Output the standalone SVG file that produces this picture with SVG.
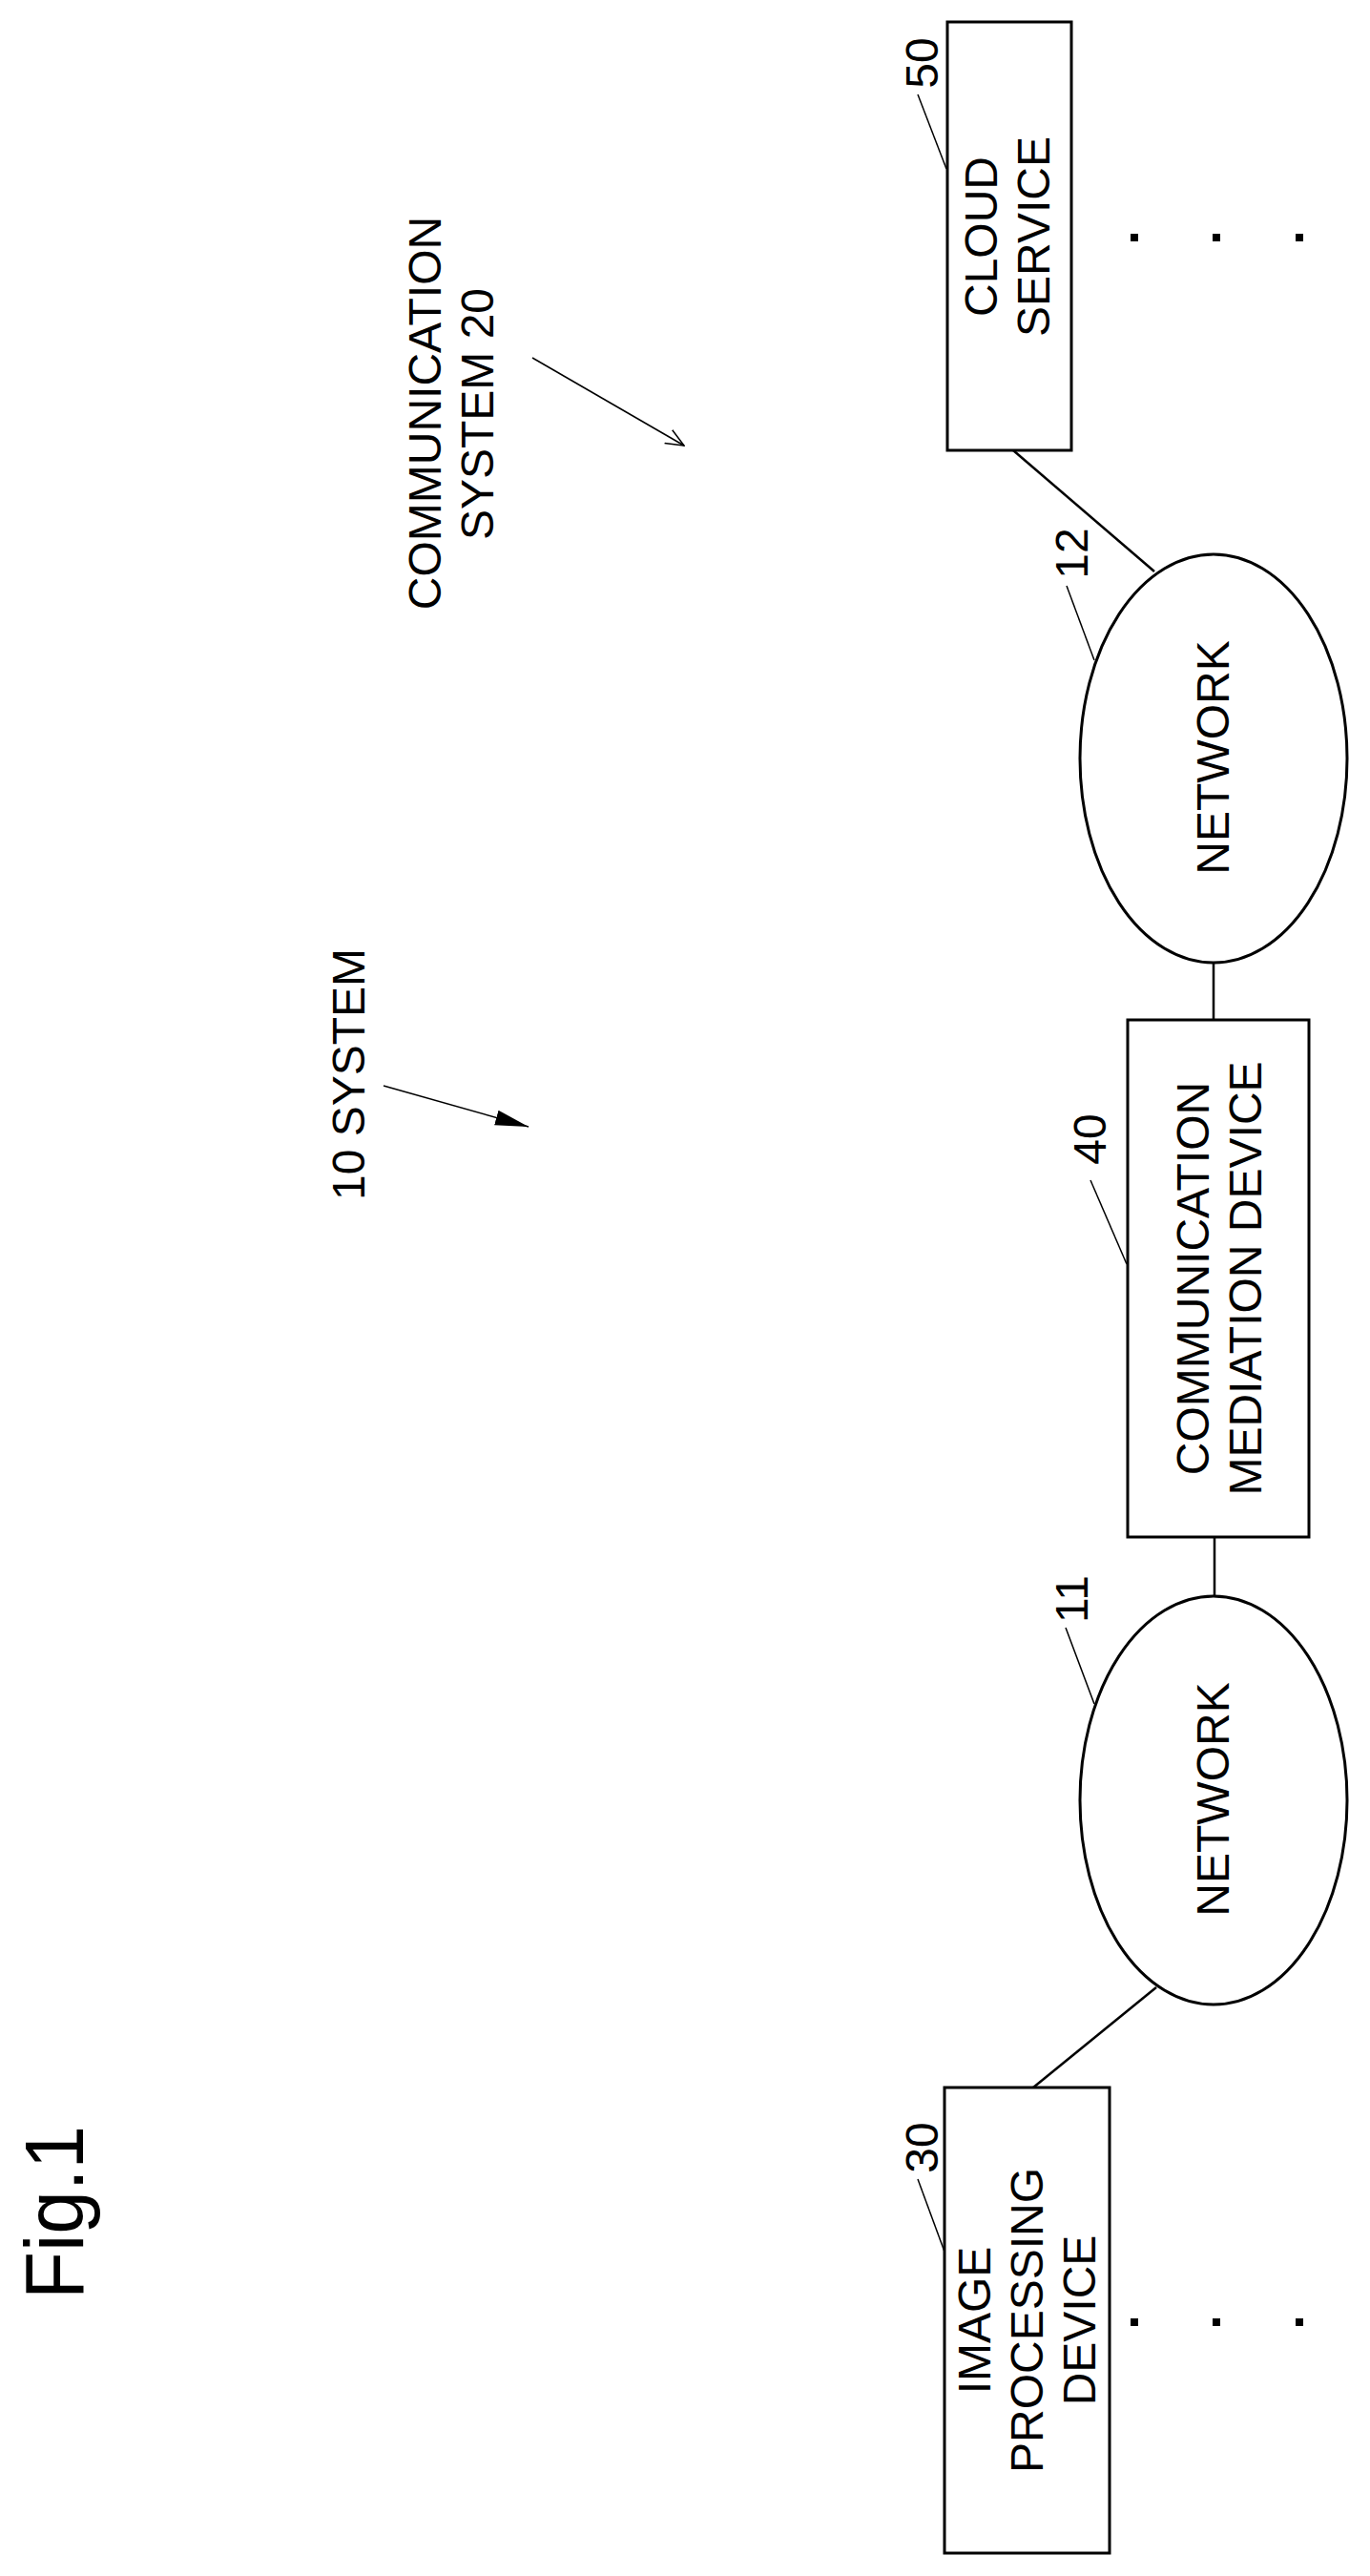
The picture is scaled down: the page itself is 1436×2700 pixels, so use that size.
<svg xmlns="http://www.w3.org/2000/svg" width="1436" height="2700" viewBox="0 0 1436 2700">
<style>
text{font-family:"Liberation Sans",Arial,sans-serif;font-size:48px;fill:#000;text-anchor:middle}
.box{fill:#fff;stroke:#000;stroke-width:3}
.conn{stroke:#000;stroke-width:2.5;fill:none}
.lead{stroke:#000;stroke-width:1.5;fill:none}
.dot{fill:#000}
</style>
<defs>
<marker id="open" viewBox="0 0 20 20" refX="19" refY="10" markerWidth="20" markerHeight="20" markerUnits="userSpaceOnUse" orient="auto"><path d="M0,2 L19,10 L0,18" fill="none" stroke="#000" stroke-width="1.5"/></marker>
<marker id="fill" viewBox="0 0 36 20" refX="35" refY="10" markerWidth="36" markerHeight="20" markerUnits="userSpaceOnUse" orient="auto"><path d="M0,2 L35,10 L0,18 Z" fill="#000"/></marker>
</defs>
<rect width="1436" height="2700" fill="#fff"/>
<text transform="translate(87,2319) rotate(-90)" style="font-size:88px" textLength="182" lengthAdjust="spacingAndGlyphs">Fig.1</text>
<g id="label-system10">
<text transform="translate(382,1126) rotate(-90)">10 SYSTEM</text>
<line class="lead" x1="402" y1="1138" x2="554" y2="1181" marker-end="url(#fill)"/>
</g>
<g id="label-comm20">
<text transform="translate(462,433) rotate(-90)">COMMUNICATION</text>
<text transform="translate(517,434) rotate(-90)">SYSTEM 20</text>
<line class="lead" x1="558" y1="375" x2="717" y2="467" marker-end="url(#open)"/>
</g>
<g id="connectors">
<line class="conn" x1="1062" y1="472" x2="1210" y2="599"/>
<line class="conn" x1="1272" y1="1008" x2="1272" y2="1069"/>
<line class="conn" x1="1273" y1="1611" x2="1273" y2="1673"/>
<line class="conn" x1="1212" y1="2083" x2="1083" y2="2188"/>
</g>
<g id="cloud50">
<rect class="box" x="993" y="23" width="130" height="449"/>
<text transform="translate(1045,248) rotate(-90)">CLOUD</text>
<text transform="translate(1100,248) rotate(-90)">SERVICE</text>
<text transform="translate(983,66) rotate(-90)">50</text>
<line class="lead" x1="962" y1="99" x2="992" y2="177"/>
</g>
<g id="network12">
<ellipse class="box" cx="1272" cy="795" rx="140" ry="214"/>
<text transform="translate(1288,794) rotate(-90)">NETWORK</text>
<text transform="translate(1140,580) rotate(-90)">12</text>
<line class="lead" x1="1118" y1="614" x2="1147" y2="692"/>
</g>
<g id="mediation40">
<rect class="box" x="1182" y="1069" width="190" height="542"/>
<text transform="translate(1267,1340) rotate(-90)">COMMUNICATION</text>
<text transform="translate(1322,1340) rotate(-90)">MEDIATION DEVICE</text>
<text transform="translate(1159,1194) rotate(-90)">40</text>
<line class="lead" x1="1143" y1="1237" x2="1181" y2="1325"/>
</g>
<g id="network11">
<ellipse class="box" cx="1272" cy="1887" rx="140" ry="214"/>
<text transform="translate(1288,1886) rotate(-90)">NETWORK</text>
<text transform="translate(1140,1676) rotate(-90)">11</text>
<line class="lead" x1="1117" y1="1706" x2="1147" y2="1786"/>
</g>
<g id="image30">
<rect class="box" x="990" y="2188" width="173" height="488"/>
<text transform="translate(1038,2432) rotate(-90)">IMAGE</text>
<text transform="translate(1093,2432) rotate(-90)">PROCESSING</text>
<text transform="translate(1148,2432) rotate(-90)">DEVICE</text>
<text transform="translate(983,2251) rotate(-90)">30</text>
<line class="lead" x1="962" y1="2284" x2="990" y2="2360"/>
</g>
<g id="ellipsis">
<rect class="dot" x="1185" y="245" width="8" height="8"/>
<rect class="dot" x="1271" y="245" width="8" height="8"/>
<rect class="dot" x="1358" y="245" width="8" height="8"/>
<rect class="dot" x="1185" y="2430" width="8" height="8"/>
<rect class="dot" x="1271" y="2430" width="8" height="8"/>
<rect class="dot" x="1358" y="2430" width="8" height="8"/>
</g>
</svg>
